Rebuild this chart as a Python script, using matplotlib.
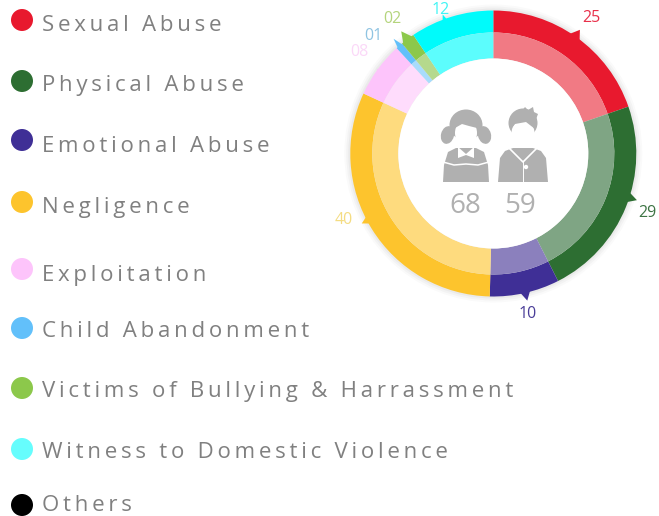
import numpy as np
import matplotlib
matplotlib.use('Agg')
import matplotlib.pyplot as plt
from matplotlib.patches import Circle, Ellipse, Polygon

plt.rcParams['font.family'] = ['Open Sans', 'DejaVu Sans']

# legend
categories = ['Sexual Abuse', 'Physical Abuse', 'Emotional Abuse', 'Negligence', 'Exploitation',
              'Child Abandonment', 'Victims of Bullying & Harrassment',
              'Witness to Domestic Violence', 'Others']

# ring
values = [25, 29, 10, 40, 8, 1, 2, 12]
value_labels = ['25', '29', '10', '40', '08', '01', '02', '12']
girls = 68
boys = 59

# styles
legend_colors = ['#e8192e', '#2d6e32', '#3f2f96', '#fdc42d', '#fdc4fb', '#62c0fa',
                 '#8cc84b', '#66fdfd', '#000000']
dot_y = [20, 81, 140, 202, 269, 328, 388, 449, 505]
text_y = [31, 91, 152, 213, 281, 337, 397, 458, 511]
outer_colors = ['#e8192e', '#2d6e32', '#3f2f96', '#fdc42d', '#fdc4fb', '#62c0fa', '#8cc84b', '#00fbfb']
inner_colors = ['#f17a84', '#7fa584', '#8b80bd', '#fedb7e', '#fedcfc', '#a8dcfc', '#b5d98d', '#5cfdfd']
label_colors = ['#e8304a', '#3d7444', '#4a3d98', '#f4dc82', '#fbd8f8', '#8fc4e2', '#b4d47c', '#40f4f4']
tip_angle = [35, 108, 167, 242, 306, 319, 323, 340]
tip_r = [151, 151, 151, 149, 144, 152, 153, 148]
half = [3, 2.5, 2.5, 2, 1, 1.4, 2.8, 1.2]
text_angle = [36, 111, 168, 246, 307, 314.5, 323, 340]
text_r = [167, 165, 164, 164, 168, 168, 168, 153]

W, H = 659, 516
cx, cy = 493.3, H - 153.5
GREY = '#b0b0b0'

fig = plt.figure(figsize=(W / 100, H / 100), dpi=100)
ax = fig.add_axes([0, 0, 1, 1])

# soft shadow behind the ring
for r, a in zip([149, 147, 145], [0.04, 0.06, 0.08]):
    ax.add_patch(Circle((cx, cy), r, color='#8a8a8a', alpha=a, lw=0, zorder=0))

ax.pie(values, colors=outer_colors, startangle=90, counterclock=False, center=(cx, cy), radius=143,
       wedgeprops=dict(width=22, linewidth=0))
ax.pie(values, colors=inner_colors, startangle=90, counterclock=False, center=(cx, cy), radius=121,
       wedgeprops=dict(width=26, linewidth=0))
ax.add_patch(Circle((cx, cy), 95, color='white', lw=0, zorder=2))
ax.set_xlim(0, W)
ax.set_ylim(0, H)
ax.set_aspect('equal')
ax.axis('off')

# little pointers and the value labels
for i in range(len(values)):
    m = np.radians(tip_angle[i])
    d = np.radians(half[i])
    base = 140
    pts = [(cx + base * np.sin(m - d), cy + base * np.cos(m - d)),
           (cx + tip_r[i] * np.sin(m), cy + tip_r[i] * np.cos(m)),
           (cx + base * np.sin(m + d), cy + base * np.cos(m + d))]
    ax.add_patch(Polygon(pts, color=outer_colors[i], lw=0, zorder=3))
    t = np.radians(text_angle[i])
    ax.text(cx + text_r[i] * np.sin(t), cy + text_r[i] * np.cos(t), value_labels[i],
            color=label_colors[i], fontsize=11.5, ha='center', va='center')


def yy(y):
    return H - y


def shape(pts, color=GREY, z=4):
    ax.add_patch(Polygon([(x, yy(y)) for x, y in pts], color=color, lw=0, zorder=z))


# girl icon
gx, bx = 466, 523
ax.add_patch(Ellipse((gx, yy(125)), 33, 31, color=GREY, lw=0, zorder=4))
ax.add_patch(Ellipse((gx - 18.5, yy(135)), 13, 18, angle=-15, color=GREY, lw=0, zorder=4))
ax.add_patch(Ellipse((gx + 18.5, yy(135)), 13, 18, angle=15, color=GREY, lw=0, zorder=4))
ax.add_patch(Ellipse((gx, yy(133)), 22, 27, color='white', lw=0, zorder=5))
shape([(gx - 11, 128), (gx - 4, 124), (gx + 3, 126), (gx + 11, 128), (gx + 11, 118), (gx - 11, 118)], z=6)
shape([(gx - 23, 182), (gx - 22, 165), (gx - 18, 152), (gx - 10, 148), (gx + 10, 148),
       (gx + 18, 152), (gx + 22, 165), (gx + 23, 182)])
shape([(gx - 8, 147), (gx, 154), (gx + 8, 147), (gx + 8, 158), (gx, 155), (gx - 8, 158)], color='white', z=5)
ax.plot([gx - 23, gx - 12, gx, gx + 12, gx + 23], [yy(162), yy(165), yy(164), yy(165), yy(162)],
        color='white', lw=1.1, zorder=5)

# boy icon
ax.add_patch(Ellipse((bx, yy(123)), 29, 29, color=GREY, lw=0, zorder=4))
shape([(bx - 2, 112), (bx + 2, 107), (bx + 5, 110), (bx + 10, 107), (bx + 11, 112), (bx + 15, 114), (bx + 12, 122)])
ax.add_patch(Ellipse((bx, yy(133)), 23, 26, color='white', lw=0, zorder=5))
shape([(bx - 12, 129), (bx - 8, 124), (bx + 3, 122), (bx + 12, 129), (bx + 12, 118), (bx - 12, 118)], z=6)
shape([(bx - 25, 182), (bx - 23, 158), (bx - 18, 151), (bx - 10, 148), (bx + 10, 148),
       (bx + 18, 151), (bx + 23, 158), (bx + 25, 182)])
ax.plot([bx - 13, bx, bx + 13], [yy(149), yy(162), yy(149)], color='white', lw=1.2, zorder=5)
ax.plot([bx, bx], [yy(162), yy(182)], color='white', lw=0.7, zorder=5)
ax.add_patch(Circle((bx + 3, yy(167)), 2.2, color='white', lw=0, zorder=6))

ax.text(465, yy(206), str(girls), color=GREY, fontsize=20, ha='center', va='center', zorder=6)
ax.text(520, yy(206), str(boys), color=GREY, fontsize=20, ha='center', va='center', zorder=6)

# legend dots and spaced out labels
for name, col, dy, ty in zip(categories, legend_colors, dot_y, text_y):
    ax.add_patch(Circle((22, yy(dy)), 11, color=col, lw=0))
    ax.text(42, yy(ty), '\u2009'.join(name), color='#808080', fontsize=16, ha='left', va='baseline')

fig.savefig('out.png', dpi=100)
